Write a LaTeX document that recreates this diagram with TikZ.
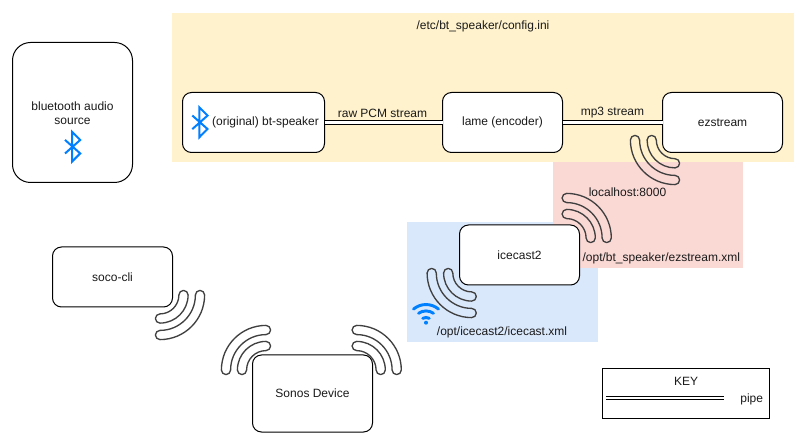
\documentclass[tikz,border=0pt]{standalone}
\usepackage{fontspec}
\setmainfont{Liberation Sans}
\definecolor{panely}{HTML}{FFF2CC}
\definecolor{panelr}{HTML}{FAD9D5}
\definecolor{panelb}{HTML}{DAE8FC}
\definecolor{iconblue}{HTML}{007FFF}
\definecolor{sigline}{HTML}{404040}
\definecolor{ink}{HTML}{1A1A1A}
\tikzset{
  boxnode/.style={draw=black,line width=0.75pt,fill=white,rounded corners=6.75pt,inner sep=0pt,outer sep=0pt,minimum width=90pt,minimum height=45pt,align=center,text=ink,font=\fontsize{9pt}{10.5pt}\selectfont},
  lbl/.style={inner sep=0pt,outer sep=0pt,align=center,text=ink,font=\fontsize{9pt}{10.5pt}\selectfont},
  pipeline/.style={line width=0.75pt,double=white,double distance=1.6pt,draw=black},
  sigarc/.style={draw=sigline,line width=1pt,line join=round},
  btglyph/.style={draw=iconblue,line width=1.5pt,line join=miter},
  wifiglyph/.style={draw=iconblue,line width=2.2pt,line cap=round}
}
% centre x, centre y (pixels, y down), start angle, end angle, radius in pixels
\newcommand{\sigband}[5]{%
  \pgfmathsetmacro{\bandout}{(#5+4.6)*0.75}%
  \pgfmathsetmacro{\bandin}{(#5-4.6)*0.75}%
  \pgfmathsetmacro{\bandcap}{4.6*0.75}%
  \pgfmathsetmacro{\sgnn}{(#4>#3)?1:-1}%
  \pgfmathsetmacro{\capendA}{#4+\sgnn*180}%
  \pgfmathsetmacro{\capendB}{#3+\sgnn*180}%
  \pgfmathsetmacro{\capendC}{#3+\sgnn*360}%
  \draw[sigarc] (#1,-#2) ++(#3:\bandout pt)
    arc[start angle=#3,end angle=#4,radius=\bandout pt]
    arc[start angle=#4,end angle=\capendA,radius=\bandcap pt]
    arc[start angle=#4,end angle=#3,radius=\bandin pt]
    arc[start angle=\capendB,end angle=\capendC,radius=\bandcap pt]
    -- cycle;
}
\newcommand{\btmark}[2]{%
  \draw[btglyph,shift={(#1,-#2)}] (-7.5,6.8) -- (7.7,-6.7) -- (-0.5,-15) -- (-0.5,15) -- (7.7,6.7) -- (-7.5,-6.8);
}
\begin{document}
\begin{tikzpicture}[x=0.75pt,y=0.75pt]
\useasboundingbox (0,0) rectangle (803,-441);
\fill[white] (0,0) rectangle (803,-441);
% panels
\fill[panely] (172,-13) rectangle (794,-162.5);
\fill[panelb] (407,-222) rectangle (597.5,-342.5);
\fill[panelr] (553,-162.5) rectangle (743,-268);
\node[lbl] (cfg) at (483,-26) {/etc/bt\_speaker/config.ini};
% boxes
\node[boxnode,minimum height=105pt,rounded corners=13.5pt] (src) at (72.5,-112.5) {};
\node[lbl] (srctext) at (72.5,-113.3) {bluetooth audio\\source};
\node[boxnode,minimum width=106.5pt] (bt) at (253.5,-122.5) {\hspace*{18pt}(original) bt-speaker};
\node[boxnode] (lame) at (502.5,-122.5) {lame (encoder)};
\node[boxnode] (ez) at (722.5,-122.5) {ezstream};
\node[boxnode] (ice) at (519.5,-255) {icecast2};
\node[boxnode] (soco) at (112.5,-277) {soco-cli};
\node[boxnode,minimum height=57.75pt] (sonos) at (312.5,-393.5) {Sonos Device};
% pipes
\draw[pipeline] (bt.east) -- (lame.west);
\draw[pipeline] (lame.east) -- (ez.west);
\node[lbl] (rawlbl) at (382.5,-113) {raw PCM stream};
\node[lbl] (mp3lbl) at (612.5,-113) {mp3 stream};
% labels
\node[lbl] (host) at (627.5,-192.7) {localhost:8000};
\node[lbl] (ezxml) at (661.3,-258.7) {/opt/bt\_speaker/ezstream.xml};
\node[lbl] (icexml) at (502,-332.7) {/opt/icecast2/icecast.xml};
% signal bands
\sigband{675}{140}{180}{270}{23.3}
\sigband{675}{140}{180}{270}{40}
\sigband{566.7}{238}{90}{0}{24}
\sigband{566.7}{238}{90}{0}{40}
\sigband{471.7}{273}{180}{270}{23.5}
\sigband{471.7}{273}{180}{270}{40}
\sigband{160}{295}{0}{-90}{23.5}
\sigband{160}{295}{0}{-90}{40}
\sigband{266}{370}{90}{180}{24}
\sigband{266}{370}{90}{180}{40}
\sigband{356.7}{370}{90}{0}{24}
\sigband{356.7}{370}{90}{0}{40}
% bluetooth glyphs
\btmark{72.5}{146.7}
\btmark{199.8}{122.3}
% wifi glyph
\draw[wifiglyph] (426,-324) ++(50:14.6pt) arc[start angle=50,end angle=130,radius=14.6pt];
\draw[wifiglyph] (426,-324) ++(55:9.8pt) arc[start angle=55,end angle=125,radius=9.8pt];
\draw[wifiglyph] (426,-324) ++(60:4.9pt) arc[start angle=60,end angle=120,radius=4.9pt];
\fill[iconblue] (426,-322.7) circle[radius=1.5pt];
% key
\node[draw=black,line width=0.75pt,inner sep=0pt,outer sep=0pt,minimum width=125.25pt,minimum height=37.9pt] (key) at (686.2,-393.6) {};
\node[lbl] (keylbl) at (686,-381.7) {KEY};
\node[lbl] (pipelbl) at (751.7,-399.3) {pipe};
\coordinate (kl) at (606,-398.3);
\coordinate (kr) at (724.3,-398.3);
\draw[pipeline] (kl) -- (kr);
\end{tikzpicture}
\end{document}
